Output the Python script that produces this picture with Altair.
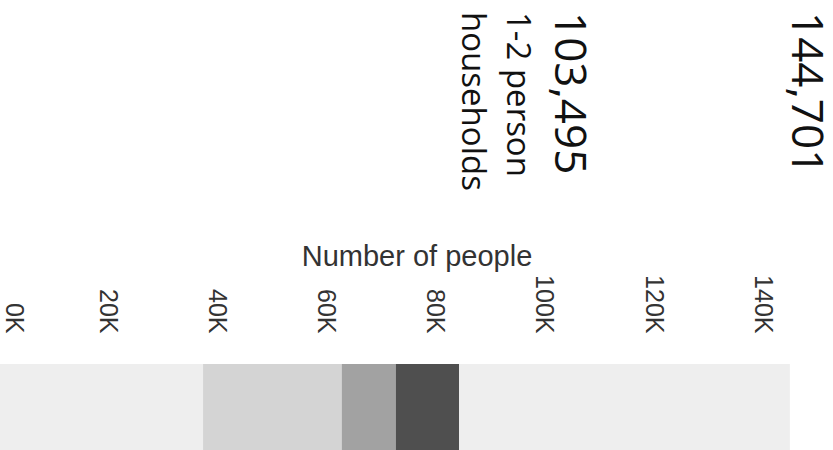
import altair as alt
import pandas as pd

# ---- data ----
segments = ["Segment 1", "Segment 2", "Segment 3", "Segment 4", "Segment 5"]
people = [37200, 25400, 9900, 11600, 60601]
shades = ["#eeeeee", "#d4d4d4", "#a2a2a2", "#4f4f4f", "#eeeeee"]
tick_values = [0, 20000, 40000, 60000, 80000, 100000, 120000, 140000]
domain_max = 152600

total_value = [144701]
total_text = ["144,701"]
group_value = [103495]
group_text = ["103,495"]
group_line1 = ["1-2 person"]
group_line2 = ["households"]

bars = pd.DataFrame({"segment": segments, "people": people,
                     "order": list(range(len(segments))), "row": ["all"] * len(segments)})

bar = alt.Chart(bars).mark_bar(stroke=None).encode(
    x=alt.X("people:Q", stack="zero",
            scale=alt.Scale(domain=[0, domain_max], nice=False, zero=True),
            axis=alt.Axis(orient="top", title="Number of people", values=tick_values,
                          labelExpr="datum.value / 1000 + 'K'", labelAngle=90,
                          labelFont="Liberation Sans", labelFontSize=25,
                          labelColor="#333333", labelPadding=31, ticks=False,
                          labelOffset=alt.condition("datum.value === 0", alt.value(13), alt.value(-2)),
                          labelFlush=False,
                          domain=False, grid=False,
                          titleFont="Liberation Sans", titleFontSize=29,
                          titleFontWeight="normal", titleColor="#333333",
                          titlePadding=3)),
    y=alt.Y("row:N", axis=None, scale=alt.Scale(paddingInner=0, paddingOuter=0)),
    color=alt.Color("segment:N", scale=alt.Scale(domain=segments, range=shades), legend=None),
    order=alt.Order("order:Q"),
)

def label(values, texts, size, dy):
    df = pd.DataFrame({"v": values, "t": texts})
    return alt.Chart(df).mark_text(
        angle=90, align="left", baseline="alphabetic", font="Open Sans",
        fontSize=size, color="#111111", dy=dy
    ).encode(x=alt.X("v:Q"), y=alt.value(-352), text="t:N")

chart = alt.layer(
    bar,
    label(total_value, total_text, 44, -2),
    label(group_value, group_text, 44, 10),
    label(group_value, group_line1, 33, 58),
    label(group_value, group_line2, 33, 103),
).properties(
    width=833, height=86,
    padding={"left": 0, "top": 364, "right": 0, "bottom": 0},
    autosize=alt.AutoSizeParams(type="none"),
).configure_view(stroke=None)

chart.save("out.html", embed_options={"renderer": "svg", "actions": False})
